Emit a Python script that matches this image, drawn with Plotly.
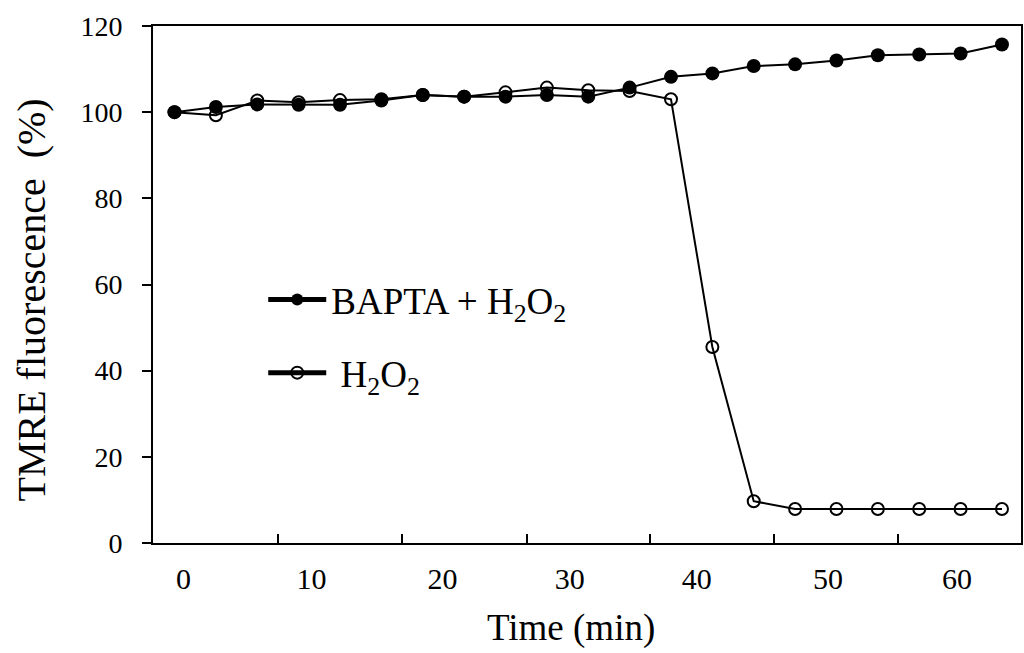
import plotly.graph_objects as go

# Data (time in minutes, fluorescence in %)
time_min = [0, 3, 6, 9, 12, 15, 18, 21, 24, 27, 30, 33, 36, 39, 42, 45, 48, 51, 54, 57, 60]
bapta_h2o2 = [100.0, 101.2, 101.8, 101.7, 101.7, 102.7, 104.0, 103.6, 103.6, 104.0, 103.6, 105.7,
              108.2, 109.0, 110.7, 111.1, 112.0, 113.2, 113.4, 113.6, 115.7]
h2o2 = [100.0, 99.3, 102.7, 102.3, 102.8, 103.0, 104.0, 103.6, 104.6, 105.7, 105.1, 104.9,
        103.0, 45.5, 9.7, 7.9, 7.9, 7.9, 7.9, 7.9, 7.9]

x_label_pos = [0.65, 9.94, 19.44, 28.66, 37.87, 47.38, 56.74]
x_label_text = ["0", "10", "20", "30", "40", "50", "60"]
x_tick_marks = [7.47, 16.47, 25.54, 34.46, 43.46, 52.46]
y_ticks = [0, 20, 40, 60, 80, 100, 120]

FONT = "Liberation Serif"
x_range = [-1.56, 61.38]

fig = go.Figure()
fig.add_trace(go.Scatter(
    x=time_min, y=bapta_h2o2, mode="lines+markers",
    name="BAPTA + H<sub>2</sub>O<sub>2</sub>", legendgroup="a",
    line=dict(color="black", width=2),
    marker=dict(symbol="circle", size=14, color="black"),
))
fig.add_trace(go.Scatter(
    x=time_min, y=h2o2, mode="lines+markers",
    name=" H<sub>2</sub>O<sub>2</sub>", legendgroup="b",
    line=dict(color="black", width=2),
    marker=dict(symbol="circle-open", size=12, color="black", line=dict(width=2)),
))
# invisible trace to carry the tick-mark axis
fig.add_trace(go.Scatter(x=x_range, y=[None, None], xaxis="x2", showlegend=False,
                         hoverinfo="skip"))

fig.update_layout(
    width=1024, height=653,
    margin=dict(l=153, r=3, t=26, b=110),
    plot_bgcolor="white", paper_bgcolor="white",
    font=dict(family=FONT, color="black"),
    showlegend=True,
    legend=dict(x=0.127, y=0.53, xanchor="left", yanchor="top",
                font=dict(family=FONT, size=37, color="black"),
                bgcolor="rgba(0,0,0,0)", itemsizing="constant",
                traceorder="grouped", tracegroupgap=22, itemwidth=58),
    xaxis=dict(range=x_range, tickmode="array", tickvals=x_label_pos, ticktext=x_label_text,
               ticks="", showgrid=False, zeroline=False, automargin=False,
               showline=True, linecolor="black", linewidth=2, mirror=True,
               tickfont=dict(family=FONT, size=30, color="black"),
               ticklabelstandoff=8),
    xaxis2=dict(range=x_range, overlaying="x", side="bottom", tickmode="array",
                tickvals=x_tick_marks, ticks="inside", ticklen=9, tickwidth=2,
                tickcolor="black", showticklabels=False, showgrid=False,
                zeroline=False, showline=False, automargin=False),
    yaxis=dict(range=[0, 120], tickmode="array", tickvals=y_ticks,
               ticks="outside", ticklen=9, tickwidth=2, tickcolor="black",
               showgrid=False, zeroline=False, automargin=False,
               showline=True, linecolor="black", linewidth=2, mirror=True,
               tickfont=dict(family=FONT, size=28, color="black"),
               ticklabelstandoff=14),
    annotations=[
        dict(text="Time (min)", xref="paper", yref="paper", x=0.482, y=-0.165,
             xanchor="center", yanchor="middle", showarrow=False,
             font=dict(family=FONT, size=37, color="black")),
        dict(text="TMRE fluorescence&nbsp;&nbsp;(%)", xref="paper", yref="paper",
             x=-0.14, y=0.47, xanchor="center", yanchor="middle", textangle=-90,
             showarrow=False, font=dict(family=FONT, size=40, color="black")),
    ],
)

fig.write_html("out.html",
               config={"displayModeBar": False},
               post_script="document.body.style.margin='0';document.body.style.overflow='hidden';")
